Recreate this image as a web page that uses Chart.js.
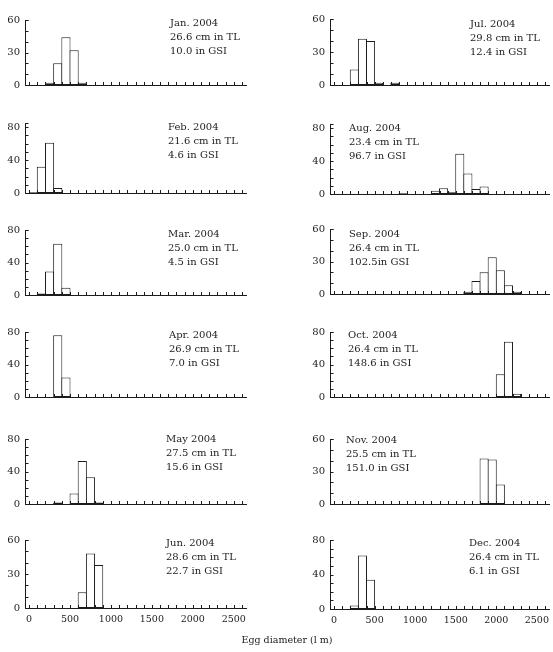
<!DOCTYPE html>
<html><head><meta charset="utf-8">
<script src="https://cdn.jsdelivr.net/npm/chart.js@4.4.1/dist/chart.umd.min.js"></script>
<style>
html,body{margin:0;padding:0;background:#fff;}
body{width:553px;height:652px;position:relative;overflow:hidden;font-family:"DejaVu Serif",serif;}
canvas{position:absolute;}
.note{position:absolute;font-size:10px;line-height:14px;color:#222;white-space:pre;}
.xtitle{position:absolute;left:187px;width:200px;top:634px;text-align:center;font-size:9.5px;color:#222;}
</style></head><body>
<script>
// ---- data ----
const monthLabels = ['Jan. 2004','Feb. 2004','Mar. 2004','Apr. 2004','May 2004','Jun. 2004',
                     'Jul. 2004','Aug. 2004','Sep. 2004','Oct. 2004','Nov. 2004','Dec. 2004'];
const tlLabels  = ['26.6 cm in TL','21.6 cm in TL','25.0 cm in TL','26.9 cm in TL','27.5 cm in TL','28.6 cm in TL',
                   '29.8 cm in TL','23.4 cm in TL','26.4 cm in TL','26.4 cm in TL','25.5 cm in TL','26.4 cm in TL'];
const gsiLabels = ['10.0 in GSI','4.6 in GSI','4.5 in GSI','7.0 in GSI','15.6 in GSI','22.7 in GSI',
                   '12.4 in GSI','96.7 in GSI','102.5in GSI','148.6 in GSI','151.0 in GSI','6.1 in GSI'];

// egg diameter bins (start of 100-um bin) and egg counts
const janBins = [200,300,400,500,600];            const janCounts = [2,20,44,32,2];
const febBins = [0,100,200,300];                  const febCounts = [1,32,61,6];
const marBins = [100,200,300,400];                const marCounts = [2,29,63,9];
const aprBins = [300,400];                        const aprCounts = [76,24];
const mayBins = [300,500,600,700,800];            const mayCounts = [2,13,53,33,2];
const junBins = [600,700,800];                    const junCounts = [14,48,38];
const julBins = [200,300,400,500,700];            const julCounts = [14,42,40,2,2];
const augBins = [800,1200,1300,1400,1500,1600,1700,1800]; const augCounts = [1,4,7,2,49,25,6,9];
const sepBins = [1600,1700,1800,1900,2000,2100,2200]; const sepCounts = [2,12,20,34,22,8,2];
const octBins = [2000,2100,2200];                 const octCounts = [28,68,4];
const novBins = [1800,1900,2000];                 const novCounts = [42,41,18];
const decBins = [200,300,400];                    const decCounts = [4,62,34];

const xTickLabels = [0,500,1000,1500,2000,2500];
const yLabels60 = [0,30,60];
const yLabels80 = [0,40,80];
const yMaxes = [60,85,80,80,80,60, 60,85,60,80,60,80];
const binWidth = 100;
const xMax = 2600;

// ---- layout (pixels) ----
const panels = [
  {bins:janBins,counts:janCounts,col:0,top:19,bottom:88, nx:170,ny:16},
  {bins:febBins,counts:febCounts,col:0,top:122,bottom:196,nx:168,ny:120},
  {bins:marBins,counts:marCounts,col:0,top:229,bottom:298,nx:168,ny:227},
  {bins:aprBins,counts:aprCounts,col:0,top:331,bottom:400,nx:169,ny:328},
  {bins:mayBins,counts:mayCounts,col:0,top:438,bottom:507,nx:166,ny:432},
  {bins:junBins,counts:junCounts,col:0,top:539,bottom:608,nx:166,ny:536},
  {bins:julBins,counts:julCounts,col:1,top:18,bottom:88, nx:470,ny:17},
  {bins:augBins,counts:augCounts,col:1,top:123,bottom:197,nx:349,ny:121},
  {bins:sepBins,counts:sepCounts,col:1,top:228,bottom:297,nx:349,ny:227},
  {bins:octBins,counts:octCounts,col:1,top:331,bottom:400,nx:348,ny:328},
  {bins:novBins,counts:novCounts,col:1,top:438,bottom:507,nx:346,ny:433},
  {bins:decBins,counts:decCounts,col:1,top:539,bottom:609,nx:469,ny:536},
];
const colGeom = [
  {left:0,   width:256, yW:25, padR:10},
  {left:276, width:277, yW:54, padR:4}
];
const INK = '#1c1c1c';

const innerTicks = {
  id:'innerTicks',
  afterDraw(chart){
    const {ctx, chartArea:a, scales:{x,y}} = chart;
    ctx.save();
    ctx.strokeStyle = INK; ctx.lineWidth = 1;
    ctx.beginPath();
    x.ticks.forEach((t,i)=>{
      const px = Math.round(x.getPixelForTick(i)) + 0.5;
      ctx.moveTo(px, a.bottom); ctx.lineTo(px, a.bottom - 3);
    });
    y.ticks.forEach((t,i)=>{
      const py = Math.round(y.getPixelForTick(i)) + 0.5;
      ctx.moveTo(a.left, py); ctx.lineTo(a.left + 3.5, py);
    });
    const pt = Math.round(a.top) + 0.5;
    ctx.moveTo(a.left, pt); ctx.lineTo(a.left + 3.5, pt);
    ctx.stroke();
    ctx.restore();
  }
};

panels.forEach((p, idx) => {
  const g = colGeom[p.col];
  const isBottom = (idx === 5 || idx === 11);
  const xH = isBottom ? 30 : 6;
  const padTop = 10, padBottom = 2;
  const h = padTop + (p.bottom - p.top) + xH + padBottom;
  const cv = document.createElement('canvas');
  cv.width = g.width; cv.height = h;
  cv.style.left = g.left + 'px'; cv.style.top = (p.top - padTop) + 'px';
  cv.style.width = g.width + 'px'; cv.style.height = h + 'px';
  document.body.appendChild(cv);

  const yMax = yMaxes[idx];
  const yLab = yMax === 60 ? yLabels60 : yLabels80;
  const data = p.bins.map((b,i)=>({x: b + binWidth/2, y: p.counts[i]}));
  // bin pixel width of this column; widen bars by 1px so neighbours share one edge line
  const plotW = g.width - g.yW - g.padR;
  const binPx = plotW * binWidth / xMax;

  new Chart(cv, {
    type:'bar',
    data:{datasets:[{
      data,
      backgroundColor:'#ffffff',
      borderColor:INK,
      borderWidth:1,
      borderSkipped:false,
      barPercentage:(binPx + 1) / binPx, categoryPercentage:1, inflateAmount:0
    }]},
    options:{
      responsive:false, animation:false, devicePixelRatio:1,
      layout:{padding:{top:padTop,bottom:padBottom,left:0,right:g.padR}},
      plugins:{legend:{display:false},tooltip:{enabled:false}},
      scales:{
        x:{type:'linear',min:0,max:xMax,
          grid:{display:false,drawTicks:false},
          border:{display:true,color:INK,width:1},
          ticks:{stepSize:binWidth,autoSkip:false,maxRotation:0,minRotation:0,padding:6,
            display:isBottom,color:'#222',
            font:{family:'DejaVu Serif',size:9.5},
            callback:(v)=> xTickLabels.includes(v) ? String(v) : ''},
          afterFit:(s)=>{s.height = xH;}
        },
        y:{min:0,max:yMax,
          grid:{display:false,drawTicks:false},
          border:{display:true,color:INK,width:1},
          ticks:{stepSize:10,includeBounds:false,autoSkip:false,padding:5,color:'#222',
            font:{family:'DejaVu Serif',size:10},
            callback:(v)=> yLab.includes(v) ? String(v) : ''},
          afterFit:(s)=>{s.width = g.yW;}
        }
      }
    },
    plugins:[innerTicks]
  });

  const note = document.createElement('div');
  note.className = 'note';
  note.style.left = p.nx + 'px'; note.style.top = p.ny + 'px';
  note.textContent = monthLabels[idx] + '\n' + tlLabels[idx] + '\n' + gsiLabels[idx];
  document.body.appendChild(note);
});

const t = document.createElement('div');
t.className = 'xtitle';
t.textContent = 'Egg diameter (l m)';
document.body.appendChild(t);
</script>
</body></html>
